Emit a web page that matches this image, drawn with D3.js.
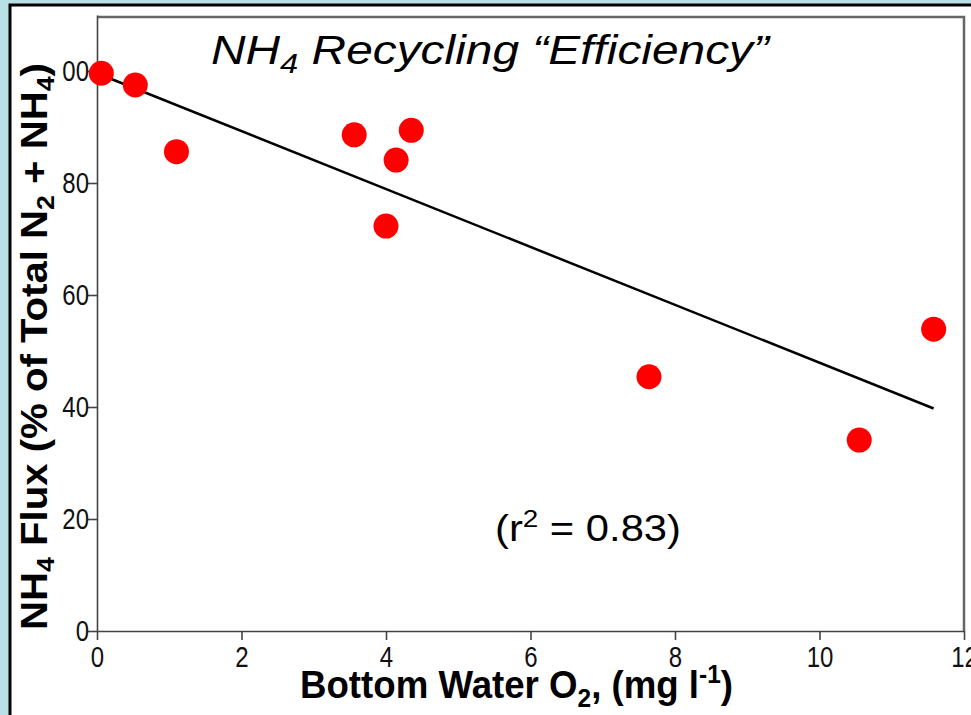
<!DOCTYPE html>
<html lang="en-US">
<head>
<meta charset="UTF-8">
<title>NH4 Recycling Efficiency</title>
<style>
  body {margin: 0; background: #b9e0e4;}
  svg {display: block;}
  .tick text {font-family: "Liberation Sans", Arial, sans-serif; font-size: 30px; fill: #111;}
  .axis path, .axis line {stroke: #444; stroke-width: 1.6px;}
</style>
</head>
<body>
<div id="viz"></div>
<script src="https://d3js.org/d3.v7.min.js"></script>
<script>

// bottom water O2 (mg/l) and NH4 share of total N2 + NH4 flux (%)
var o2 = [0.06, 0.53, 1.10, 3.56, 4.35, 4.14, 4.00, 7.64, 10.55, 11.58];
var nh4 = [99.6, 97.5, 85.6, 88.6, 89.4, 84.1, 72.3, 45.4, 34.1, 53.9];

var xTicks = [0, 2, 4, 6, 8, 10, 12];
var yTicks = [0, 20, 40, 60, 80, 100];

// regression line
var fitIntercept = 99.6,
    fitSlope = -5.17,
    rSquared = "0.83";

var width = 971, height = 715;

var svg = d3.select("#viz").append("svg")
    .attr("width", width)
    .attr("height", height);

// white slide panel with black rule top and left
svg.append("rect")
    .attr("x", 11).attr("y", 6)
    .attr("width", width).attr("height", height)
    .attr("fill", "#fff");
svg.append("path")
    .attr("d", "M10," + height + "V5H" + width)
    .attr("fill", "none")
    .attr("stroke", "#000")
    .attr("stroke-width", 3);

var x = d3.scaleLinear().domain([0, 12]).range([97, 964]);
var y = d3.scaleLinear().domain([0, 110]).range([631, 15]);

// plot frame
svg.append("path")
    .attr("d", "M97,17H964V631")
    .attr("fill", "none")
    .attr("stroke", "#666")
    .attr("stroke-width", 2.5);

// tick labels are a condensed face, squeeze them sideways
svg.append("g")
    .attr("class", "axis")
    .attr("transform", "translate(0,631)")
    .call(d3.axisBottom(x).tickValues(xTicks).tickSize(9).tickSizeOuter(0).tickPadding(6))
    .selectAll("text").attr("transform", "scale(0.8,1)");

svg.append("g")
    .attr("class", "axis")
    .attr("transform", "translate(97,0)")
    .call(d3.axisLeft(y).tickValues(yTicks).tickSize(9).tickSizeOuter(0).tickPadding(1))
    .selectAll("text").attr("transform", "scale(0.8,1)");

// y title sits on a white box which hides the left of the tick labels
svg.append("rect")
    .attr("x", 13).attr("y", 20)
    .attr("width", 49).attr("height", 615)
    .attr("fill", "#fff");

var yTitle = svg.append("text")
    .attr("transform", "translate(47,630) rotate(-90)")
    .attr("font-family", "Liberation Sans, Arial, sans-serif")
    .attr("font-weight", "bold")
    .attr("font-size", 36)
    .attr("textLength", 567)
    .attr("lengthAdjust", "spacingAndGlyphs")
    .attr("fill", "#000");
yTitle.append("tspan").text("NH");
yTitle.append("tspan").attr("font-size", 24).attr("dy", 7).text("4");
yTitle.append("tspan").attr("dy", -7).text(" Flux (% of Total N");
yTitle.append("tspan").attr("font-size", 24).attr("dy", 7).text("2");
yTitle.append("tspan").attr("dy", -7).text(" + NH");
yTitle.append("tspan").attr("font-size", 24).attr("dy", 7).text("4");
yTitle.append("tspan").attr("dy", -7).text(")");

// x title
var xTitle = svg.append("text")
    .attr("x", 300).attr("y", 698)
    .attr("font-family", "Liberation Sans, Arial, sans-serif")
    .attr("font-weight", "bold")
    .attr("font-size", 39)
    .attr("textLength", 433)
    .attr("lengthAdjust", "spacingAndGlyphs")
    .attr("fill", "#000");
xTitle.append("tspan").text("Bottom Water O");
xTitle.append("tspan").attr("font-size", 26).attr("dy", 9).text("2");
xTitle.append("tspan").attr("dy", -9).text(", (mg l");
xTitle.append("tspan").attr("font-size", 26).attr("dy", -15).text("-1");
xTitle.append("tspan").attr("dy", 15).text(")");

// chart title
var title = svg.append("text")
    .attr("x", 211).attr("y", 64)
    .attr("font-family", "Liberation Sans, Arial, sans-serif")
    .attr("font-style", "italic")
    .attr("font-size", 41)
    .attr("textLength", 558)
    .attr("lengthAdjust", "spacingAndGlyphs")
    .attr("fill", "#000");
title.append("tspan").text("NH");
title.append("tspan").attr("font-size", 28).attr("dy", 9).text("4");
title.append("tspan").attr("dy", -9).text(" Recycling \u201cEfficiency\u201d");

// fitted line
var xExt = d3.extent(o2);
svg.append("line")
    .attr("x1", x(xExt[0])).attr("y1", y(fitIntercept + fitSlope * xExt[0]))
    .attr("x2", x(xExt[1])).attr("y2", y(fitIntercept + fitSlope * xExt[1]))
    .attr("stroke", "#000")
    .attr("stroke-width", 2.5);

// points
svg.append("g")
    .selectAll("circle")
    .data(o2)
    .enter().append("circle")
    .attr("cx", function(d) { return x(d); })
    .attr("cy", function(d, i) { return y(nh4[i]); })
    .attr("r", 12.5)
    .attr("fill", "#ff0000");

// r squared note
var rText = svg.append("text")
    .attr("x", 495).attr("y", 541)
    .attr("font-family", "Liberation Sans, Arial, sans-serif")
    .attr("font-size", 36)
    .attr("textLength", 186)
    .attr("lengthAdjust", "spacingAndGlyphs")
    .attr("fill", "#000");
rText.append("tspan").text("(r");
rText.append("tspan").attr("font-size", 24).attr("dy", -14).text("2");
rText.append("tspan").attr("dy", 14).text(" = " + rSquared + ")");

</script>
</body>
</html>
